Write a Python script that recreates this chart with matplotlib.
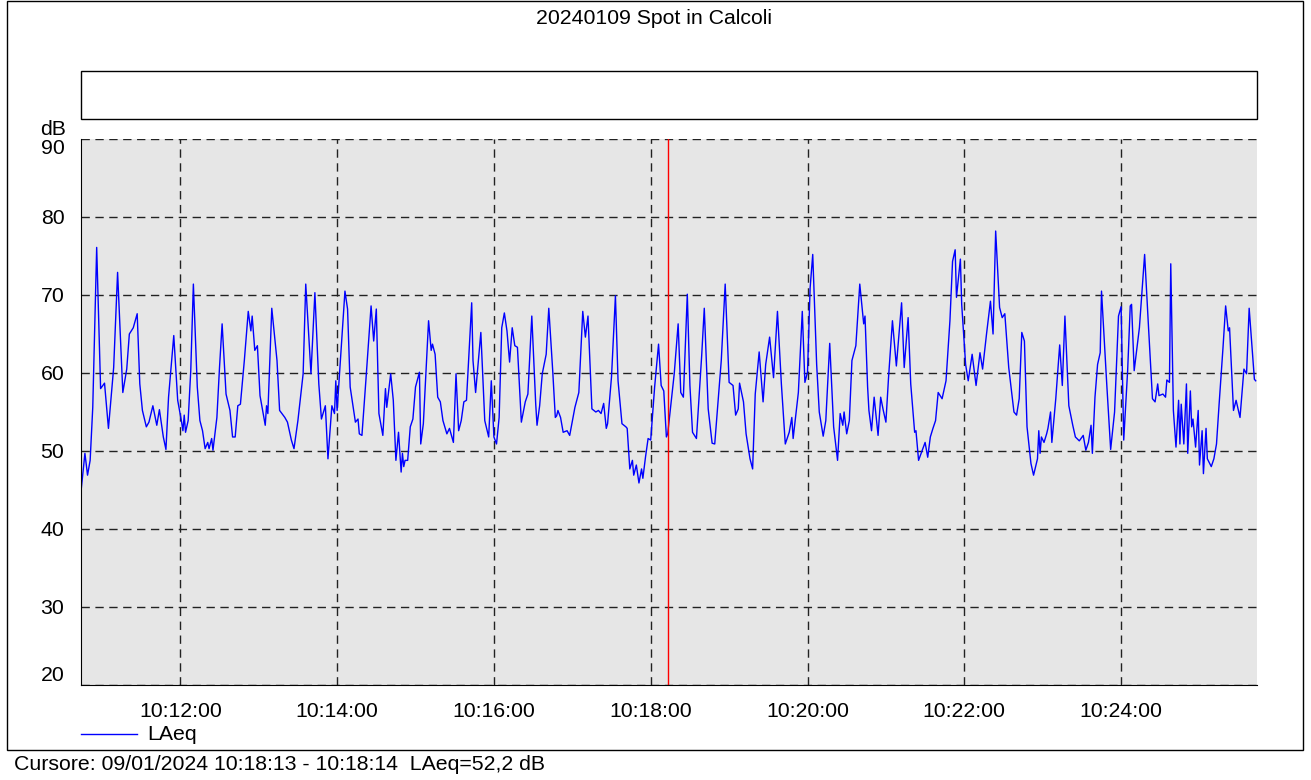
import matplotlib
matplotlib.use("Agg")
import matplotlib.pyplot as plt
from matplotlib.ticker import FuncFormatter
from matplotlib.lines import Line2D
from matplotlib.patches import Rectangle

plt.rcParams['font.family'] = ['Liberation Sans', 'DejaVu Sans']

title = "20240109 Spot in Calcoli"
series_name = "LAeq"
cursor_text = "Cursore: 09/01/2024 10:18:13 - 10:18:14  LAeq=52,2 dB"
y_unit = "dB"

# seconds after 10:00:00
t_sec = [644, 647, 649, 651, 653, 656, 659, 662, 665, 669, 672, 676, 679, 681, 684, 687, 689, 691, 694, 696,
         699, 702, 704, 707, 709, 711, 715, 718,
         721, 722, 723, 724, 726, 728, 730, 733, 735, 737, 739, 741, 742, 744, 745, 748, 750, 752, 755, 758,
         760, 762, 764, 766, 769, 772, 774, 775, 777, 779, 781, 785, 786, 787, 790,
         794, 796, 800, 802, 805, 807, 810, 814, 816, 820, 823, 826, 828, 831, 833, 836, 838, 839, 840, 846,
         848, 850, 854, 856, 857, 859, 862, 866, 868,
         870, 872, 875, 877, 878, 881, 883, 885, 887, 889, 890, 891, 892, 894, 896, 898, 900, 903, 904, 906,
         910, 912, 913, 915, 917, 919, 921, 924, 926, 929, 931, 933, 935, 937, 939, 943,
         944, 946, 950, 953, 956, 958, 960, 962, 964, 966, 968, 970, 972, 974, 976, 978, 981, 984, 986, 989,
         992, 993, 995, 997, 1000, 1002, 1005, 1007, 1008, 1009, 1011, 1013, 1016, 1018,
         1022, 1025, 1028, 1030, 1032, 1035, 1038, 1040, 1042, 1044, 1046, 1047, 1050, 1053, 1055, 1058, 1061,
         1062, 1064, 1066, 1067, 1069, 1071, 1073, 1074, 1076, 1078, 1080, 1083, 1086, 1088, 1090, 1092,
         1093, 1096, 1098, 1101, 1103, 1105, 1108, 1110, 1112, 1115, 1119, 1121, 1124, 1127, 1129, 1131, 1134,
         1137, 1140, 1143, 1145, 1147, 1148, 1151, 1153, 1156, 1158, 1160, 1163, 1166, 1168,
         1171, 1174, 1177, 1180, 1183, 1186, 1188, 1189, 1193, 1196, 1198, 1200, 1202, 1204, 1207, 1209, 1212,
         1214, 1217, 1220, 1223, 1225, 1227, 1228, 1230, 1232, 1234, 1237, 1240, 1243,
         1244, 1246, 1247, 1249, 1251, 1254, 1256, 1258, 1260, 1262, 1265, 1268, 1272, 1274, 1277, 1279, 1282,
         1283, 1285, 1288, 1290, 1292, 1294, 1296, 1298, 1300, 1303, 1306, 1309, 1311, 1313, 1314, 1317, 1318,
         1319, 1321, 1323, 1326, 1329, 1332, 1334, 1337, 1340, 1342, 1344, 1347, 1349, 1351, 1354, 1358, 1360,
         1362, 1364, 1366, 1368, 1371, 1373, 1376, 1377, 1378, 1379, 1381, 1383, 1384, 1386, 1387, 1390, 1393,
         1395, 1397, 1400, 1403, 1405, 1408, 1411, 1413, 1415, 1417, 1418, 1420, 1422, 1424, 1425, 1429, 1432,
         1435, 1438, 1440, 1442, 1445, 1447, 1448, 1450, 1454, 1458, 1461, 1464, 1466, 1468,
         1469, 1472, 1474, 1475, 1477, 1478, 1480, 1482, 1484, 1485, 1486, 1488, 1490, 1491, 1493, 1494, 1495,
         1497, 1499, 1500, 1502, 1503, 1505, 1506, 1509, 1511, 1513, 1515, 1518, 1520, 1522, 1523, 1526, 1528,
         1531, 1534, 1536, 1538, 1542, 1543]
laeq = [44.8, 49.7, 46.9, 48.8, 55.6, 76.1, 58.0, 58.7, 52.9, 60.7, 72.9, 57.5, 60.5, 65.0, 65.8, 67.6, 58.6, 55.2, 53.1, 53.7,
        55.8, 53.3, 55.3, 51.8, 50.2, 56.9, 64.8, 56.5,
        53.7, 52.6, 54.6, 52.4, 53.9, 60.3, 71.4, 58.2, 53.9, 52.6, 50.3, 51.1, 50.3, 51.6, 50.1, 54.3, 60.7, 66.3, 57.3, 55.2,
        51.8, 51.8, 55.8, 56.0, 61.6, 67.9, 65.4, 67.3, 62.9, 63.5, 57.1, 53.3, 55.8, 54.8, 68.3,
        61.6, 55.2, 54.3, 53.7, 51.4, 50.3, 53.9, 59.9, 71.4, 59.9, 70.3, 58.6, 54.1, 55.8, 49.0, 55.8, 54.8, 59.0, 55.2, 70.5,
        68.2, 58.2, 53.7, 54.1, 52.2, 52.0, 59.0, 68.6, 64.1,
        68.2, 54.8, 52.0, 58.0, 55.6, 59.9, 56.5, 48.8, 52.4, 47.3, 49.7, 48.0, 48.8, 48.8, 53.1, 54.1, 58.2, 60.1, 50.9, 53.5,
        66.7, 62.9, 63.7, 62.4, 56.9, 56.3, 53.9, 52.2, 52.9, 51.1, 59.9, 52.6, 53.9, 56.3, 56.5, 69.0,
        61.6, 57.5, 65.2, 53.9, 51.8, 59.0, 51.8, 50.9, 54.3, 65.8, 67.7, 65.4, 61.4, 65.8, 63.5, 63.3, 53.7, 56.3, 57.3, 67.3,
        56.0, 53.3, 55.8, 59.9, 62.4, 68.3, 60.3, 54.3, 54.5, 55.2, 54.3, 52.4, 52.6, 52.0,
        55.6, 57.5, 67.9, 64.6, 67.3, 55.4, 55.0, 55.2, 54.8, 56.1, 52.9, 53.5, 59.5, 69.9, 59.0, 53.5, 53.1,
        52.9, 47.7, 48.8, 46.9, 48.2, 45.9, 47.7, 46.5, 49.2, 51.6, 51.4, 58.2, 63.7, 58.4, 57.7, 51.8,
        52.2, 56.9, 59.9, 66.3, 57.5, 56.9, 70.1, 58.4, 52.4, 51.6, 62.2, 68.3, 55.4, 51.0, 50.9, 55.2, 61.6,
        71.4, 58.8, 58.4, 54.6, 55.4, 58.7, 56.3, 52.2, 49.0, 47.7, 57.3, 62.7, 56.3, 61.1,
        64.6, 59.4, 67.9, 58.6, 50.9, 52.4, 54.3, 51.6, 57.5, 67.9, 58.8, 60.1, 70.9, 75.2, 61.1, 55.0, 51.9,
        53.9, 63.8, 53.1, 48.8, 54.8, 53.3, 55.0, 52.2, 53.9, 61.6, 63.5, 71.4, 66.3,
        67.3, 58.2, 55.2, 52.6, 56.9, 52.0, 56.9, 55.2, 53.7, 59.4, 66.7, 60.9, 69.0, 60.7, 67.1, 58.6, 52.4,
        52.6, 48.8, 50.2, 51.1, 49.2, 51.8, 52.9, 53.9, 57.5, 56.7, 59.0, 66.7, 74.3, 75.8, 69.7, 74.6, 68.8,
        66.3, 61.1, 59.0, 62.4, 58.4, 62.6, 60.5, 65.0, 69.2, 65.0, 78.2, 68.4, 67.1, 67.6, 60.7, 55.0, 54.6,
        56.7, 65.2, 64.1, 53.1, 48.4, 46.9, 49.0, 52.6, 49.7, 51.8, 51.1, 52.2, 52.9, 55.0, 51.1, 56.7, 63.6,
        58.4, 67.3, 55.8, 53.3, 51.8, 51.3, 52.0, 50.1, 51.1, 53.3, 49.7, 56.9, 61.1, 62.6, 70.5, 58.6, 50.2,
        55.0, 67.3, 68.5, 51.4, 60.3, 68.6, 68.8, 60.3, 65.8, 75.2, 65.8, 56.7, 56.3, 58.6,
        57.1, 57.3, 56.9, 59.1, 58.8, 74.0, 55.2, 50.5, 56.5, 50.9, 56.0, 50.9, 58.6, 49.7, 57.7, 53.1, 54.1,
        50.5, 55.2, 48.2, 52.6, 47.1, 52.9, 49.0, 48.0, 49.0, 50.9, 56.0, 63.3, 68.6, 65.4, 65.8, 55.2, 56.5,
        54.3, 60.5, 59.9, 68.3, 59.2, 59.0]

cursor_t = 1093
x_ticks = [720, 840, 960, 1080, 1200, 1320, 1440]
y_ticks = [20, 30, 40, 50, 60, 70, 80, 90]

W, H = 1311, 780
FS = 15.3
fig = plt.figure(figsize=(W / 100, H / 100), dpi=100)


def box(x0, y0, x1, y1):
    # pixel box (top-left origin) -> figure fraction
    return [x0 / W, 1 - y1 / H, (x1 - x0) / W, (y1 - y0) / H]


# outer frame
fig.add_artist(Rectangle((7 / W, 1 - 750 / H), (1303 - 7) / W, 750 / H - 0.001,
                         transform=fig.transFigure, fill=False, ec='black', lw=1))
fig.text(654 / W, 1 - 18 / H, title, ha='center', va='center', fontsize=FS)

# empty box above the plot
fig.add_artist(Rectangle((81 / W, 1 - 119 / H), (1257 - 81) / W, 48 / H,
                         transform=fig.transFigure, fill=False, ec='black', lw=1))

ax = fig.add_axes(box(81, 139, 1257, 685))
ax.set_facecolor('#e6e6e6')
ax.plot(t_sec, laeq, color='#0000ff', lw=1.0)
ax.axvline(cursor_t, color='red', lw=1)
ax.set_xlim(644, 1544)
ax.set_ylim(20, 90)
ax.set_xticks(x_ticks)
ax.set_yticks(y_ticks)
ax.xaxis.set_major_formatter(FuncFormatter(lambda v, p: "10:%02d:%02d" % (int(v) // 60, int(v) % 60)))
ax.tick_params(length=0, labelsize=FS, pad=12)
ax.grid(True, color='#222222', ls=(0, (6, 4)), lw=1)
ylabels = ax.get_yticklabels()
ylabels[-1].set_va('top')
ylabels[0].set_va('bottom')
for s in ['top', 'right']:
    ax.spines[s].set_visible(False)
ax.text(-0.024, 1.0, y_unit, transform=ax.transAxes, ha='center', va='bottom', fontsize=FS)

# legend line
fig.add_artist(Line2D([81 / W, 137 / W], [1 - 734 / H] * 2, color='#0000ff', lw=1))
fig.text(147 / W, 1 - 734 / H, series_name, va='center', fontsize=FS)
fig.text(14 / W, 1 - 765 / H, cursor_text, va='center', fontsize=FS)

fig.savefig("out.png", dpi=100)
